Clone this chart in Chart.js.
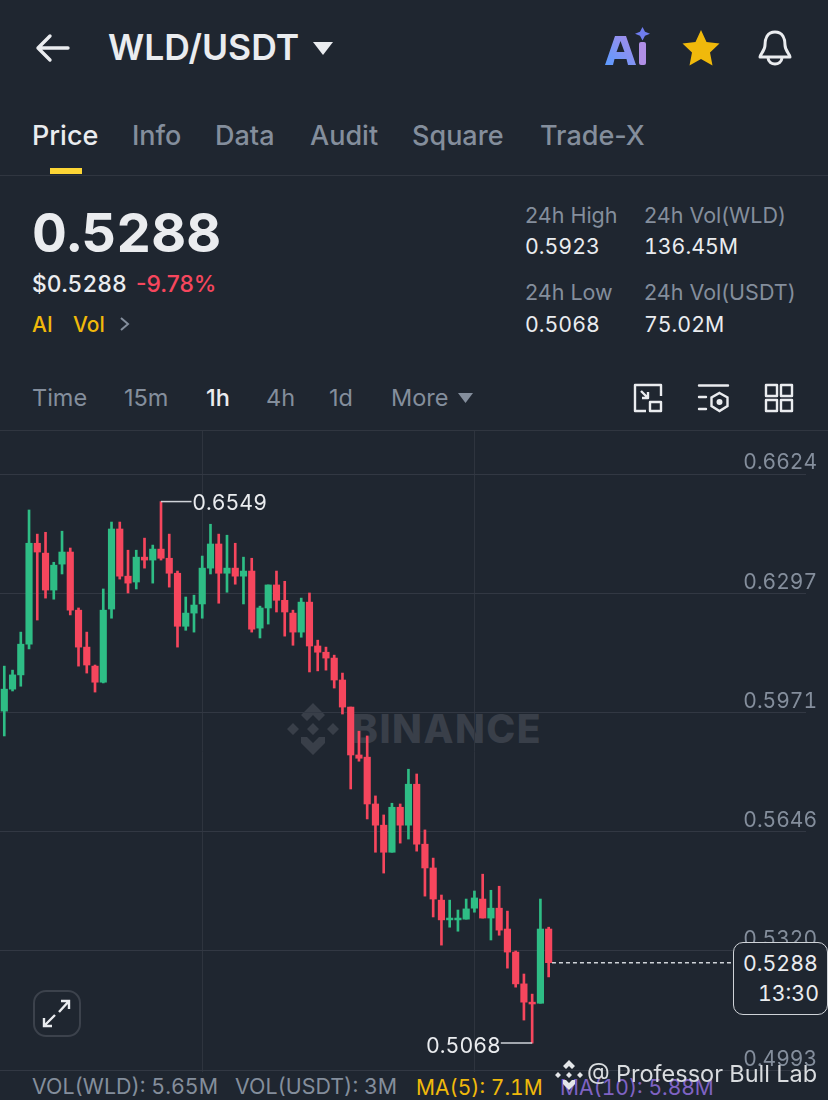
<!DOCTYPE html>
<html>
<head>
<meta charset="utf-8">
<title>WLD/USDT</title>
<script src="https://cdn.jsdelivr.net/npm/chart.js@4"></script>
<style>
html, body { margin: 0; padding: 0; background: #1f2630; }
body { width: 828px; height: 1100px; position: relative; overflow: hidden; font-family: Inter, sans-serif; font-variant-numeric: tabular-nums; color: #eaecef; }
.t { position: absolute; white-space: nowrap; line-height: 1; transform: translateY(-50%); }
.g { color: #848e9c; }
.w { color: #eaecef; }
.s { font-size: 21.3px; }
.l { font-size: 21.5px; font-variant-numeric: normal; }
.tab { font-size: 27px; font-weight: 500; color: #848e9c; font-variant-numeric: normal; }
.iv { font-size: 23.5px; color: #848e9c; font-variant-numeric: normal; }
.b { font-size: 21.4px; }
.m { font-size: 21px; }
svg { position: absolute; overflow: visible; }
.rule { position: absolute; left: 0; width: 828px; height: 1px; background: #303640; }
#mark { position: absolute; left: 0; top: 0; z-index: 0; }
#chart { position: absolute; left: 0; top: 431px; z-index: 1; }
#priceBox { position: absolute; left: 733px; top: 942px; width: 93px; height: 71px; border: 1px solid #cfd3d8; border-radius: 10px; background: #1f2630; z-index: 2; }
.over { z-index: 3; }
</style>
</head>
<body>

<!-- header -->
<svg style="left:36px;top:32px" width="34" height="32" fill="none" stroke="#eaecef" stroke-width="3.4" stroke-linecap="round" stroke-linejoin="round"><path d="M2 16H32M14 4L2 16L14 28"/></svg>
<div class="t" style="left:108px;top:48px;font-size:35.5px;font-weight:600">WLD/USDT</div>
<svg style="left:313px;top:42px" width="20" height="13"><path d="M0 0H20L10 13Z" fill="#eaecef"/></svg>
<svg style="left:605px;top:28px" width="46" height="40">
  <defs><linearGradient id="ai" x1="0" y1="1" x2="1" y2="0"><stop offset="0" stop-color="#5b9bff"/><stop offset="1" stop-color="#a98be8"/></linearGradient></defs>
  <path d="M0 37L10 8H21L31 37H23L21.5 31H9.5L8 37ZM11.5 24H19.5L15.5 13Z" fill="url(#ai)"/>
  <rect x="34" y="14" width="7" height="23" rx="2" fill="#b08fe6"/>
  <path d="M37.5 0L40 6L45 8.5L40 11L37.5 17L35 11L30 8.5L35 6Z" fill="#6f7df0" transform="translate(0 -1) scale(1 .8)"/>
</svg>
<svg style="left:682px;top:30px" width="38" height="36"><path d="M19 0L24.5 12L37.5 13.5L28 22.5L30.5 35.5L19 29L7.5 35.5L10 22.5L.5 13.5L13.5 12Z" fill="#f0b90b"/></svg>
<svg style="left:758px;top:30px" width="34" height="36" fill="none" stroke="#eaecef" stroke-width="3" stroke-linejoin="round"><path d="M17 2C9 2 7 9 7 15C7 21 2 24 2 27H32C32 24 27 21 27 15C27 9 25 2 17 2Z"/><path d="M10 28C11 36 23 36 24 28"/></svg>

<!-- tabs -->
<div class="t tab" style="left:32px;top:135px;color:#eaecef">Price</div>
<div class="t tab" style="left:132px;top:135px">Info</div>
<div class="t tab" style="left:215px;top:135px">Data</div>
<div class="t tab" style="left:310px;top:135px">Audit</div>
<div class="t tab" style="left:412px;top:135px">Square</div>
<div class="t tab" style="left:540px;top:135px">Trade-X</div>
<div style="position:absolute;left:50px;top:168px;width:32px;height:6px;background:#fcd535"></div>
<div class="rule" style="top:175px"></div>

<!-- price summary -->
<div class="t" style="left:32px;top:233px;font-size:54px;font-weight:700">0.5288</div>
<div class="t" style="left:32px;top:284px;font-size:22.8px;font-weight:500">$0.5288</div>
<div class="t" style="left:136px;top:284px;font-size:22.8px;font-weight:500;color:#f6465d;font-variant-numeric:normal">-9.78%</div>
<div class="t" style="left:32px;top:324px;font-size:21px;font-weight:500;color:#f0b90b">AI</div>
<div class="t" style="left:73px;top:324px;font-size:21px;font-weight:500;color:#f0b90b">Vol</div>
<svg style="left:120px;top:317px" width="9" height="14" fill="none" stroke="#848e9c" stroke-width="2"><path d="M1 1L8 7L1 13"/></svg>

<div class="t l g" style="left:525px;top:216px">24h High</div>
<div class="t s w" style="left:525px;top:246.500px">0.5923</div>
<div class="t l g" style="left:644px;top:216px">24h Vol(WLD)</div>
<div class="t s w" style="left:644px;top:246.500px">136.45M</div>
<div class="t l g" style="left:525px;top:293px">24h Low</div>
<div class="t s w" style="left:525px;top:324.500px">0.5068</div>
<div class="t l g" style="left:644px;top:293px">24h Vol(USDT)</div>
<div class="t s w" style="left:644px;top:324.500px">75.02M</div>

<!-- interval row -->
<div class="t iv" style="left:32px;top:398px">Time</div>
<div class="t iv" style="left:124px;top:398px">15m</div>
<div class="t iv" style="left:206px;top:398px;color:#eaecef;font-weight:500">1h</div>
<div class="t iv" style="left:266px;top:398px">4h</div>
<div class="t iv" style="left:329px;top:398px">1d</div>
<div class="t iv" style="left:391px;top:398px">More</div>
<svg style="left:458px;top:393px" width="15" height="10"><path d="M0 0H15L7.5 10Z" fill="#848e9c"/></svg>
<svg style="left:634px;top:384px" width="28" height="28" fill="none" stroke="#eaecef" stroke-width="2.4" stroke-linejoin="round"><path d="M12 27H1V1H27V12"/><rect x="16" y="18" width="11" height="9"/><path d="M7 7L14 14M14 8V14H8"/></svg>
<svg style="left:698px;top:384px" width="32" height="28" fill="none" stroke="#eaecef" stroke-width="2.4" stroke-linecap="round"><path d="M1 1.500H30M1 13H8M1 25H8"/><path d="M21.500 9L29.500 13.500V22L21.500 27L13.500 22V13.500Z"/><circle cx="21.500" cy="18" r="1.800" fill="#eaecef"/></svg>
<svg style="left:765px;top:384px" width="28" height="28" fill="none" stroke="#eaecef" stroke-width="2.4" stroke-linejoin="round"><rect x="1" y="1" width="11" height="11"/><rect x="16" y="1" width="11" height="11"/><rect x="1" y="16" width="11" height="11"/><rect x="16" y="16" width="11" height="11"/></svg>
<div class="rule" style="top:430px"></div>

<!-- BINANCE watermark, sits behind the candles -->
<div id="mark">
  <svg style="left:287px;top:703px" width="52" height="52" fill="#393f49"><path d="M26 0L38 12L32 18L26 12L20 18L14 12ZM6 20L12 26L6 32L0 26ZM46 20L52 26L46 32L40 26ZM26 20L32 26L26 32L20 26ZM14 34L20 34L26 40L32 34L38 34L38 40L26 52L14 40Z"/></svg>
  <div class="t" style="left:352px;top:728px;font-size:39px;font-weight:800;letter-spacing:1.5px;color:#393f49">BINANCE</div>
</div>

<canvas id="chart" width="828" height="641"></canvas>

<div id="priceBox"></div>
<div class="t s w over" style="left:743px;top:964px">0.5288</div>
<div class="t s w over" style="left:758px;top:994px">13:30</div>

<svg style="left:33px;top:990px;z-index:2" width="48" height="47" fill="none"><rect x="1" y="1" width="46" height="45" rx="12" stroke="#3c424c" stroke-width="2"/><path d="M11 36L22 25M11 28V36H19M36 11L26 22M28 11H36V19" stroke="#eaecef" stroke-width="2.4"/></svg>

<!-- volume row -->
<div class="t b g" style="left:32px;top:1087px">VOL(WLD): 5.65M</div>
<div class="t b g" style="left:235px;top:1087px">VOL(USDT): 3M</div>
<div class="t m" style="left:416px;top:1087px;color:#f0b90b">MA(5): 7.1M</div>
<div class="t m" style="left:560px;top:1087px;color:#7f63c4">MA(10): 5.88M</div>

<!-- author watermark -->
<svg class="over" style="left:555px;top:1060px" width="28" height="30" fill="#e4e6e9"><path d="M14 0L20 6L17 9L14 6L11 9L8 6ZM3 12L6 15L3 18L0 15ZM25 12L28 15L25 18L22 15ZM14 12L17 15L14 18L11 15ZM8 20L11 20L14 23L17 20L20 20L20 24L14 30L8 24Z"/></svg>
<div class="t over" style="left:587px;top:1074px;font-size:23.5px;color:#d9dcdf">@ Professor Bull Lab</div>

<script>
const opens  = [0.5976, 0.6036, 0.6075, 0.6159, 0.6435, 0.6408, 0.6307, 0.6378, 0.6411, 0.6252, 0.6151, 0.6099, 0.6055, 0.6255, 0.6474, 0.6345, 0.6329, 0.6397, 0.6389, 0.6419, 0.6394, 0.6353, 0.6208, 0.6244, 0.6269, 0.6367, 0.6433, 0.6353, 0.6367, 0.6345, 0.6359, 0.6203, 0.6258, 0.6321, 0.6279, 0.6244, 0.6192, 0.6274, 0.6154, 0.6137, 0.6121, 0.6061, 0.5987, 0.5856, 0.5850, 0.5722, 0.5664, 0.5590, 0.5713, 0.5664, 0.5776, 0.5612, 0.5547, 0.5459, 0.5405, 0.5405, 0.5407, 0.5437, 0.5462, 0.5410, 0.5437, 0.5380, 0.5317, 0.5230, 0.5180, 0.5177, 0.5380];
const highs  = [0.6099, 0.6088, 0.6192, 0.6526, 0.6460, 0.6465, 0.6383, 0.6468, 0.6422, 0.6258, 0.6192, 0.6102, 0.6310, 0.6493, 0.6493, 0.6416, 0.6416, 0.6449, 0.6430, 0.6549, 0.6460, 0.6359, 0.6288, 0.6293, 0.6400, 0.6487, 0.6460, 0.6457, 0.6435, 0.6397, 0.6394, 0.6263, 0.6321, 0.6359, 0.6331, 0.6252, 0.6285, 0.6299, 0.6170, 0.6151, 0.6129, 0.6080, 0.5987, 0.5921, 0.5908, 0.5744, 0.5692, 0.5724, 0.5722, 0.5817, 0.5804, 0.5651, 0.5574, 0.5473, 0.5459, 0.5432, 0.5462, 0.5484, 0.5530, 0.5486, 0.5497, 0.5429, 0.5320, 0.5257, 0.5202, 0.5462, 0.5385];
const lows   = [0.5908, 0.6031, 0.6044, 0.6146, 0.6225, 0.6285, 0.6282, 0.6351, 0.6239, 0.6099, 0.6080, 0.6028, 0.6053, 0.6230, 0.6337, 0.6299, 0.6310, 0.6367, 0.6326, 0.6389, 0.6315, 0.6151, 0.6197, 0.6192, 0.6230, 0.6351, 0.6271, 0.6301, 0.6323, 0.6269, 0.6192, 0.6176, 0.6214, 0.6247, 0.6181, 0.6156, 0.6178, 0.6083, 0.6086, 0.6088, 0.6039, 0.5968, 0.5763, 0.5839, 0.5681, 0.5590, 0.5533, 0.5590, 0.5615, 0.5626, 0.5593, 0.5470, 0.5413, 0.5336, 0.5385, 0.5374, 0.5407, 0.5426, 0.5410, 0.5350, 0.5363, 0.5273, 0.5221, 0.5131, 0.5068, 0.5177, 0.5249];
const closes = [0.6036, 0.6075, 0.6159, 0.6435, 0.6411, 0.6307, 0.6375, 0.6411, 0.6252, 0.6151, 0.6102, 0.6055, 0.6252, 0.6474, 0.6345, 0.6326, 0.6397, 0.6389, 0.6419, 0.6394, 0.6353, 0.6208, 0.6244, 0.6266, 0.6367, 0.6433, 0.6353, 0.6367, 0.6345, 0.6359, 0.6200, 0.6258, 0.6321, 0.6279, 0.6247, 0.6192, 0.6274, 0.6154, 0.6137, 0.6121, 0.6061, 0.5987, 0.5856, 0.5847, 0.5722, 0.5664, 0.5590, 0.5713, 0.5664, 0.5776, 0.5612, 0.5547, 0.5462, 0.5405, 0.5410, 0.5410, 0.5435, 0.5465, 0.5410, 0.5437, 0.5377, 0.5317, 0.5230, 0.5180, 0.5175, 0.5380, 0.5288];

const priceTicks = [0.6624, 0.6297, 0.5971, 0.5646, 0.5320, 0.4993];
const timeTicks = [24, 57];
const highLabel = '0.6549';
const lowLabel = '0.5068';
const lastPrice = 0.5288;

const UP = '#2ebd85';
const DOWN = '#f6465d';

const candleColors = opens.map((o, i) => closes[i] >= o ? UP : DOWN);
const wicks = opens.map((o, i) => ({ x: i, y: [lows[i], highs[i]] }));
const bodies = opens.map((o, i) => ({ x: i, y: [o, closes[i]] }));

// extreme labels and their leader lines
const textPlugin = {
    id: 'extremes',
    afterDatasetsDraw(chart) {
        const { ctx, scales } = chart;
        ctx.save();
        ctx.font = '21.3px Inter';
        ctx.fillStyle = '#eaecef';
        ctx.textBaseline = 'middle';
        ctx.textAlign = 'left';
        ctx.fillText(highLabel, scales.x.getPixelForValue(22.9) - 1, scales.y.getPixelForValue(0.6549) + 2);
        ctx.textAlign = 'right';
        ctx.fillText(lowLabel, scales.x.getPixelForValue(60.2), scales.y.getPixelForValue(0.5068) + 3);
        ctx.restore();
    }
};

new Chart(document.getElementById('chart'), {
    data: {
        datasets: [
            { type: 'line', data: [{ x: 66.4, y: lastPrice }, { x: 88.3, y: lastPrice }], borderColor: '#cfd3d8', borderWidth: 1.5, borderDash: [4, 3], pointRadius: 0, order: 0 },
            { type: 'line', data: [{ x: 19, y: 0.6549 }, { x: 22.7, y: 0.6549 }], borderColor: '#cfd3d8', borderWidth: 1.5, pointRadius: 0, order: 0 },
            { type: 'line', data: [{ x: 60.2, y: 0.5068 }, { x: 64, y: 0.5068 }], borderColor: '#cfd3d8', borderWidth: 1.5, pointRadius: 0, order: 0 },
            { type: 'bar', data: bodies, backgroundColor: candleColors, barThickness: 6.5, grouped: false, order: 1 },
            { type: 'bar', data: wicks, backgroundColor: candleColors, barThickness: 2, grouped: false, order: 2 }
        ]
    },
    plugins: [textPlugin],
    options: {
        responsive: false,
        animation: false,
        layout: { padding: 0 },
        plugins: { legend: { display: false }, tooltip: { enabled: false } },
        scales: {
            x: {
                type: 'linear',
                offset: false,
                min: -0.52,
                max: 97.2,
                afterBuildTicks: scale => { scale.ticks = timeTicks.map(v => ({ value: v })); },
                ticks: { display: false },
                border: { display: false },
                grid: { offset: false, color: '#2e343e', lineWidth: 1, drawTicks: false }
            },
            y: {
                type: 'linear',
                position: 'right',
                offset: false,
                min: 0.4989,
                max: 0.6742,
                afterBuildTicks: scale => { scale.ticks = priceTicks.map(v => ({ value: v })); },
                afterFit: scale => { scale.paddingTop = 0; scale.paddingBottom = 0; },
                ticks: {
                    mirror: true,
                    padding: 11,
                    labelOffset: -11,
                    color: '#848e9c',
                    font: { family: 'Inter', size: 21 },
                    callback: v => v.toFixed(4)
                },
                border: { display: false },
                grid: { color: '#323843', lineWidth: 1, drawTicks: false }
            }
        }
    }
});
</script>
</body>
</html>
